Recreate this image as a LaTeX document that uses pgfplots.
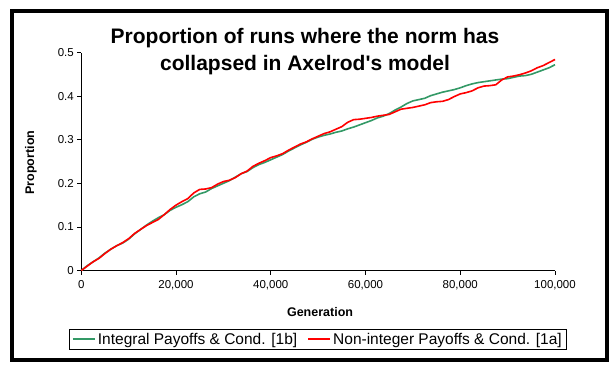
\documentclass[border=0pt]{standalone}
\usepackage{pgfplots}
\pgfplotsset{compat=1.18}
\usepackage{fontspec}
\setmainfont{Liberation Sans}
\definecolor{sgreen}{RGB}{51,153,102}
\definecolor{ered}{RGB}{255,0,0}
\begin{document}
\begin{tikzpicture}
\useasboundingbox (0,0) rectangle (615bp,369bp);
\draw[line width=4bp] (11.5bp,9bp) rectangle (607bp,358bp);
\begin{axis}[
  at={(81.3bp,98.5bp)}, anchor=south west,
  scale only axis, width=473.7bp, height=218bp,
  xmin=0, xmax=100000, ymin=0, ymax=0.5,
  axis x line=bottom, axis y line=left,
  axis line style={-, line width=0.8bp},
  tick align=outside, major tick length=4bp,
  tick style={line width=0.8bp, black},
  scaled x ticks=false, scaled y ticks=false,
  xtick={0,20000,40000,60000,80000,100000},
  xticklabels={0,{20,000},{40,000},{60,000},{80,000},{100,000}},
  ytick={0,0.1,0.2,0.3,0.4,0.5},
  yticklabels={0,0.1,0.2,0.3,0.4,0.5},
  /pgf/number format/assume math mode=true,
  ticklabel style={font=\fontsize{11.5bp}{13bp}\selectfont},
  xticklabel style={yshift=-2bp},
  xlabel={\textbf{Generation}},
  ylabel={\textbf{Proportion}},
  label style={font=\fontsize{12.5bp}{14bp}\selectfont},
  xlabel style={at={(axis description cs:0.504,-0.19)}, anchor=center},
  ylabel style={at={(axis description cs:-0.1062,0.495)}, anchor=center},
  legend columns=2,
  legend style={at={(0.4994,-0.3165)}, anchor=center, draw=black, line width=0.8bp,
    font=\fontsize{15.5bp}{17bp}\selectfont, inner xsep=3bp, inner ysep=2bp,
    /tikz/every even column/.append style={column sep=8bp}},
  legend image code/.code={\draw[#1, line width=2bp, line cap=butt] (0bp,0bp) -- (22bp,0bp);},
  clip=false,
]
\addplot[draw=sgreen, color=sgreen, line width=1.6bp] coordinates {
(0,0) (1250,0.011) (2500,0.020) (3750,0.029) (5000,0.040) (6250,0.049) (7500,0.057) (8750,0.063) (10000,0.072) (11250,0.084) (12500,0.094)
(13750,0.104) (15000,0.113) (16250,0.121) (17500,0.128) (18750,0.138) (20000,0.145) (21250,0.151) (22500,0.158) (23750,0.169) (25000,0.176)
(26250,0.180) (27500,0.188) (28750,0.194) (30000,0.200) (31250,0.206) (32500,0.214) (33750,0.222) (35000,0.227) (36250,0.236) (37500,0.243)
(38750,0.248) (40000,0.254) (41250,0.260) (42500,0.266) (43750,0.274) (45000,0.281) (46250,0.288) (47500,0.294) (48750,0.301) (50000,0.306)
(51250,0.310) (52500,0.313) (53750,0.317) (55000,0.320) (56250,0.325) (57500,0.329) (58750,0.334) (60000,0.339) (61250,0.344) (62500,0.350)
(63750,0.354) (65000,0.360) (66250,0.368) (67500,0.375) (68750,0.383) (70000,0.389) (71250,0.392) (72500,0.395) (73750,0.401) (75000,0.405)
(76250,0.409) (77500,0.412) (78750,0.415) (80000,0.419) (81250,0.424) (82500,0.428) (83750,0.431) (85000,0.433) (86250,0.435) (87500,0.437)
(88750,0.439) (90000,0.440) (91250,0.443) (92500,0.446) (93750,0.447) (95000,0.450) (96250,0.455) (97500,0.460) (98750,0.465) (100000,0.472)
};
\addlegendentry{Integral Payoffs \& Cond. [1b]}
\addplot[draw=ered, color=ered, line width=1.6bp] coordinates {
(0,0) (1250,0.010) (2500,0.020) (3750,0.028) (5000,0.039) (6250,0.049) (7500,0.057) (8750,0.064) (10000,0.073) (11250,0.085) (12500,0.094)
(13750,0.103) (15000,0.110) (16250,0.117) (17500,0.128) (18750,0.140) (20000,0.150) (21250,0.158) (22500,0.165) (23750,0.178) (25000,0.186)
(26250,0.187) (27500,0.190) (28750,0.198) (30000,0.204) (31250,0.207) (32500,0.213) (33750,0.222) (35000,0.228) (36250,0.239) (37500,0.246)
(38750,0.252) (40000,0.259) (41250,0.263) (42500,0.268) (43750,0.276) (45000,0.283) (46250,0.290) (47500,0.295) (48750,0.302) (50000,0.308)
(51250,0.314) (52500,0.318) (53750,0.324) (55000,0.330) (56250,0.340) (57500,0.346) (58750,0.347) (60000,0.349) (61250,0.351) (62500,0.354)
(63750,0.356) (65000,0.358) (66250,0.364) (67500,0.370) (68750,0.372) (70000,0.374) (71250,0.377) (72500,0.380) (73750,0.385) (75000,0.387)
(76250,0.388) (77500,0.392) (78750,0.399) (80000,0.405) (81250,0.408) (82500,0.412) (83750,0.419) (85000,0.423) (86250,0.424) (87500,0.426)
(88750,0.437) (90000,0.444) (91250,0.446) (92500,0.449) (93750,0.453) (95000,0.458) (96250,0.465) (97500,0.470) (98750,0.477) (100000,0.484)
};
\addlegendentry{Non-integer Payoffs \& Cond. [1a]}
\end{axis}
\node[align=center, font=\fontsize{21bp}{27bp}\selectfont\bfseries] at (305bp,317.5bp)
  {Proportion of runs where the norm has\\collapsed in Axelrod\textquotesingle s model};
\end{tikzpicture}
\end{document}
